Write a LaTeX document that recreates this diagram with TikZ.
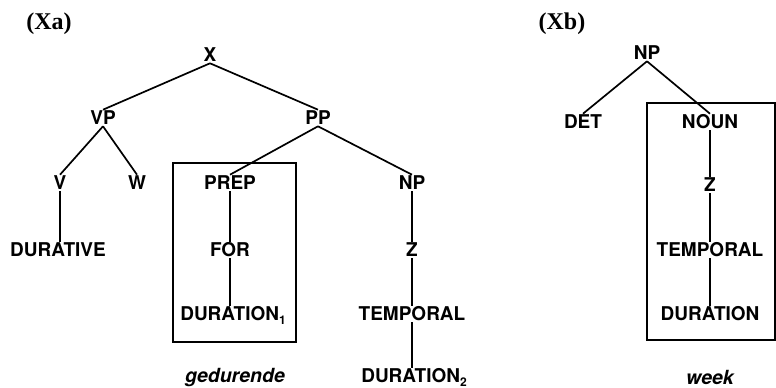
\documentclass[tikz,border=0pt]{standalone}
\usepackage{fontspec}
\setmainfont{Liberation Serif}
\newfontfamily\treefont{TeX Gyre Heros}
\newcommand{\lowsub}[1]{\raisebox{-3.5pt}{\fontsize{12}{12}\selectfont #1}}
\begin{document}
\begin{tikzpicture}[x=1pt,y=-1pt,
  lab/.style={font=\treefont\bfseries\fontsize{19}{19}\selectfont, inner sep=0pt, outer sep=1.5pt, text height=13.6pt, text depth=0pt, anchor=center},
  word/.style={font=\treefont\bfseries\itshape\fontsize{19.5}{19.5}\selectfont, inner sep=0pt},
  title/.style={font=\bfseries\fontsize{24}{24}\selectfont, inner sep=0pt},
  edge/.style={line width=1.7pt},
  frame/.style={line width=1.4pt}]
\useasboundingbox (0,0) rectangle (776,388);
% titles
\node[title] (ta) at (49,24) {(Xa)};
\node[title] (tb) at (562,24) {(Xb)};
% tree Xa
\node[lab] (x) at (210,55) {X};
\node[lab] (vp) at (103,118) {VP};
\node[lab] (pp) at (318,118) {PP};
\node[lab] (v) at (60,183) {V};
\node[lab] (w) at (137,183) {W};
\node[lab] (prep) at (230,183) {PREP};
\node[lab] (np) at (412,183) {NP};
\node[lab] (dur) at (58,250) {DURATIVE};
\node[lab] (for) at (230,250) {FOR};
\node[lab] (z) at (412,250) {Z};
\node[lab] (d1) at (233,314) {DURATION\lowsub{1}};
\node[lab] (temp) at (412,314) {TEMPORAL};
\node[lab] (d2) at (414,376) {DURATION\lowsub{2}};
\node[word] (ged) at (235,378) {gedurende};
\draw[edge] (x.south) -- (vp.north);
\draw[edge] (x.south) -- (pp.north);
\draw[edge] (vp.south) -- (v.north);
\draw[edge] (vp.south) -- (w.north);
\draw[edge] (pp.south) -- (prep.north);
\draw[edge] (pp.south) -- (np.north);
\draw[edge] (v.south) -- (v.south |- dur.north);
\draw[edge] (prep.south) -- (for.north);
\draw[edge] (for.south) -- (for.south |- d1.north);
\draw[edge] (np.south) -- (z.north);
\draw[edge] (z.south) -- (temp.north);
\draw[edge] (temp.south) -- (temp.south |- d2.north);
\draw[frame] (173,163) rectangle (296,342);
% tree Xb
\node[lab] (np2) at (647,53) {NP};
\node[lab] (det) at (583,122) {DET};
\node[lab] (noun) at (710,122) {NOUN};
\node[lab] (z2) at (710,185) {Z};
\node[lab] (temp2) at (710,250) {TEMPORAL};
\node[lab] (dur2) at (710,314) {DURATION};
\node[word] (week) at (710,377) {week};
\draw[edge] (np2.south) -- (det.north);
\draw[edge] (np2.south) -- (noun.north);
\draw[edge] (noun.south) -- (z2.north);
\draw[edge] (z2.south) -- (temp2.north);
\draw[edge] (temp2.south) -- (dur2.north);
\draw[frame] (647,103) rectangle (775,340);
\end{tikzpicture}
\end{document}
